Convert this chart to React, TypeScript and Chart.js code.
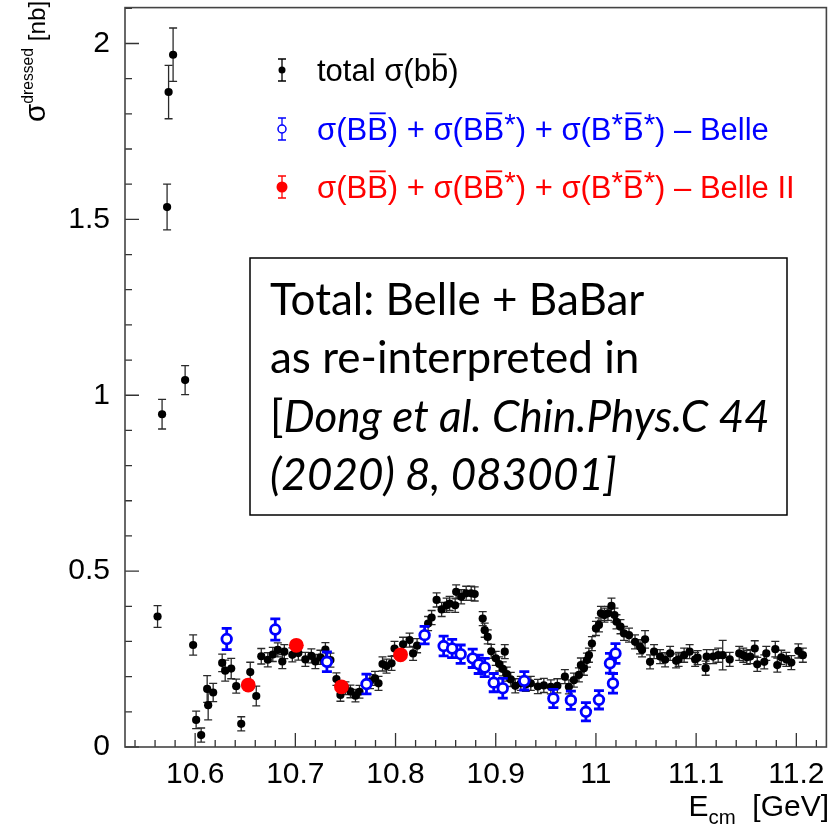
import { useEffect, useRef } from "react";
import { Chart, registerables } from "chart.js";

Chart.register(...registerables);

// Total sigma(b bbar) cross section, dressed [nb], vs E_cm [GeV]
const totalE = [
  10.5625, 10.567, 10.572, 10.5735, 10.578, 10.59, 10.598, 10.601, 10.606, 10.612,
  10.613, 10.618, 10.627, 10.63, 10.636, 10.641, 10.646, 10.655, 10.661, 10.666,
  10.6725, 10.6775, 10.6825, 10.687, 10.689, 10.697, 10.703, 10.71, 10.716, 10.72,
  10.725, 10.73, 10.735, 10.741, 10.745, 10.75, 10.755, 10.76, 10.764, 10.7745,
  10.7795, 10.783, 10.787, 10.791, 10.796, 10.799, 10.8075, 10.814, 10.8175, 10.8215,
  10.8325, 10.836, 10.841, 10.846, 10.851, 10.854, 10.8595, 10.8605, 10.8655, 10.8705,
  10.8755, 10.879, 10.887, 10.889, 10.892, 10.8955, 10.9, 10.9035, 10.907, 10.909,
  10.911, 10.915, 10.9195, 10.925, 10.93, 10.935, 10.942, 10.948, 10.955, 10.9615,
  10.969, 10.973, 10.978, 10.983, 10.985, 10.988, 10.991, 10.993, 10.996, 11.0,
  11.003, 11.005, 11.0085, 11.012, 11.0155, 11.0185, 11.0205, 11.0245, 11.028, 11.033,
  11.039, 11.044, 11.046, 11.049, 11.054, 11.058, 11.064, 11.069, 11.074, 11.08,
  11.0825, 11.088, 11.0935, 11.099, 11.1015, 11.1095, 11.1105, 11.117, 11.122, 11.1265,
  11.1335, 11.143, 11.147, 11.1505, 11.154, 11.1585, 11.161, 11.168, 11.17, 11.179,
  11.181, 11.185, 11.19, 11.195, 11.202, 11.2065,
];
const totalSigma = [
  0.371, 0.946, 1.535, 1.862, 1.968, 1.043, 0.29, 0.077, 0.034, 0.165,
  0.119, 0.155, 0.239, 0.217, 0.223, 0.173, 0.066, 0.213, 0.145, 0.258,
  0.248, 0.263, 0.276, 0.243, 0.271, 0.262, 0.267, 0.249, 0.259, 0.243,
  0.255, 0.277, 0.247, 0.193, 0.148, 0.167, 0.158, 0.146, 0.157, 0.186,
  0.195, 0.181, 0.236, 0.23, 0.238, 0.28, 0.292, 0.304, 0.266, 0.288,
  0.351, 0.368, 0.418, 0.391, 0.403, 0.408, 0.403, 0.441, 0.427, 0.437,
  0.437, 0.435, 0.365, 0.332, 0.313, 0.272, 0.252, 0.236, 0.222, 0.271,
  0.207, 0.192, 0.174, 0.181, 0.178, 0.181, 0.172, 0.175, 0.171, 0.174,
  0.2, 0.171, 0.19, 0.205, 0.233, 0.224, 0.247, 0.261, 0.294, 0.337,
  0.347, 0.38, 0.375, 0.38, 0.401, 0.375, 0.356, 0.342, 0.323, 0.318,
  0.299, 0.285, 0.276, 0.306, 0.242, 0.271, 0.257, 0.248, 0.266, 0.245,
  0.249, 0.261, 0.271, 0.249, 0.254, 0.224, 0.257, 0.257, 0.261, 0.261,
  0.249, 0.266, 0.261, 0.255, 0.257, 0.28, 0.235, 0.242, 0.266, 0.278,
  0.233, 0.255, 0.249, 0.24, 0.273, 0.261,
];
const totalErr = [
  0.031, 0.042, 0.065, 0.076, 0.076, 0.041, 0.029, 0.025, 0.02, 0.038,
  0.042, 0.026, 0.025, 0.03, 0.029, 0.02, 0.02, 0.028, 0.028, 0.022,
  0.02, 0.02, 0.02, 0.02, 0.02, 0.02, 0.02, 0.02, 0.02, 0.02,
  0.02, 0.02, 0.02, 0.018, 0.018, 0.018, 0.018, 0.018, 0.018, 0.02,
  0.02, 0.02, 0.02, 0.02, 0.02, 0.02, 0.02, 0.02, 0.02, 0.02,
  0.02, 0.02, 0.02, 0.02, 0.02, 0.02, 0.02, 0.02, 0.02, 0.02,
  0.02, 0.02, 0.02, 0.02, 0.02, 0.02, 0.02, 0.02, 0.02, 0.02,
  0.02, 0.02, 0.02, 0.02, 0.02, 0.02, 0.02, 0.02, 0.02, 0.02,
  0.02, 0.02, 0.02, 0.02, 0.02, 0.02, 0.02, 0.02, 0.02, 0.02,
  0.02, 0.02, 0.02, 0.02, 0.022, 0.02, 0.02, 0.02, 0.02, 0.02,
  0.02, 0.02, 0.02, 0.025, 0.02, 0.02, 0.02, 0.02, 0.02, 0.02,
  0.02, 0.02, 0.02, 0.02, 0.02, 0.02, 0.02, 0.02, 0.02, 0.042,
  0.02, 0.02, 0.02, 0.02, 0.02, 0.022, 0.02, 0.02, 0.02, 0.022,
  0.02, 0.02, 0.02, 0.02, 0.02, 0.02,
];

// sigma(BB) + sigma(BB*) + sigma(B*B*) - Belle
const belleE = [
  10.6315, 10.68, 10.7315, 10.771, 10.829, 10.848, 10.8565, 10.865, 10.877, 10.883,
  10.889, 10.898, 10.907, 10.9285, 10.9575, 10.975, 10.99, 11.003, 11.014, 11.017,
  11.0195,
];
const belleSigma = [
  0.307, 0.334, 0.242, 0.179, 0.318, 0.287, 0.28, 0.264, 0.252, 0.235,
  0.226, 0.183, 0.167, 0.188, 0.138, 0.133, 0.1, 0.134, 0.238, 0.181,
  0.266,
];
const belleErr = [
  0.03, 0.03, 0.028, 0.028, 0.025, 0.028, 0.026, 0.026, 0.026, 0.026,
  0.026, 0.026, 0.028, 0.026, 0.026, 0.026, 0.026, 0.026, 0.028, 0.028,
  0.028,
];

// sigma(BB) + sigma(BB*) + sigma(B*B*) - Belle II
const belle2E = [10.653, 10.701, 10.746, 10.805];
const belle2Sigma = [0.176, 0.289, 0.171, 0.262];
const belle2Err = [0.012, 0.012, 0.012, 0.012];

const xTickValues = [10.6, 10.7, 10.8, 10.9, 11.0, 11.1, 11.2];
const yTickValues = [0, 0.5, 1, 1.5, 2];

const X_MIN = 10.53;
const X_MAX = 11.23;
const Y_MIN = 0;
const Y_MAX = 2.102;

const AXIS_FONT = "'Liberation Sans', Arial, Helvetica, sans-serif";
const BOX_FONT = "Lato, 'Open Sans', sans-serif";
const BLUE = "#0000ff";
const RED = "#ff0000";

type Seg = { t: string; bar?: boolean; sup?: boolean; sub?: boolean; italic?: boolean; scale?: number };

const fmtTick = (v: number) => String(Math.round(v * 10) / 10);

// Draw a run of text pieces (overbars, super/subscripts) from a left baseline point.
function drawRich(
  ctx: CanvasRenderingContext2D,
  segs: Seg[],
  x: number,
  y: number,
  size: number,
  family: string,
  color: string,
  supScale = 0.75,
  supRaise = 0.3,
  measureOnly = false
) {
  ctx.save();
  ctx.fillStyle = color;
  ctx.strokeStyle = color;
  ctx.textAlign = "left";
  ctx.textBaseline = "alphabetic";
  let cx = x;
  for (const s of segs) {
    const small = s.sup || s.sub;
    const sz = (small ? size * supScale : size) * (s.scale ?? 1);
    ctx.font = `${s.italic ? "italic " : ""}${sz}px ${family}`;
    let dy = 0;
    if (s.sup) dy = -size * supRaise;
    if (s.sub) dy = size * 0.28;
    const w = ctx.measureText(s.t).width;
    if (!measureOnly) {
      ctx.fillText(s.t, cx, y + dy);
      if (s.bar) {
        ctx.lineWidth = Math.max(1.2, size * 0.06);
        ctx.beginPath();
        const by = y + dy - size * 0.86;
        ctx.moveTo(cx + w * 0.12, by);
        ctx.lineTo(cx + w * 0.9, by);
        ctx.stroke();
      }
    }
    cx += w;
  }
  ctx.restore();
  return cx - x;
}

const errorBarPlugin = {
  id: "errorBars",
  beforeDatasetDraw(chart: any, args: any) {
    const ds = chart.data.datasets[args.index];
    const errs: number[] = ds.errors;
    const st = ds.errStyle;
    if (!errs || !st) return;
    const { ctx, chartArea } = chart;
    const ys = chart.scales.y;
    ctx.save();
    ctx.beginPath();
    ctx.rect(chartArea.left, chartArea.top, chartArea.right - chartArea.left, chartArea.bottom - chartArea.top);
    ctx.clip();
    ctx.strokeStyle = st.color;
    ctx.lineWidth = st.width;
    args.meta.data.forEach((pt: any, i: number) => {
      const v = ds.data[i].y;
      const e = errs[i];
      const top = ys.getPixelForValue(v + e);
      const bot = ys.getPixelForValue(v - e);
      const x = pt.x;
      ctx.beginPath();
      if (top < pt.y - st.gap) {
        ctx.moveTo(x, pt.y - st.gap);
        ctx.lineTo(x, top);
      }
      if (bot > pt.y + st.gap) {
        ctx.moveTo(x, pt.y + st.gap);
        ctx.lineTo(x, bot);
      }
      ctx.moveTo(x - st.cap, top);
      ctx.lineTo(x + st.cap, top);
      ctx.moveTo(x - st.cap, bot);
      ctx.lineTo(x + st.cap, bot);
      ctx.stroke();
    });
    ctx.restore();
  },
};

const framePlugin = {
  id: "frameAndDecor",
  afterDatasetsDraw(chart: any) {
    const { ctx, chartArea } = chart;
    const xs = chart.scales.x;
    const ys = chart.scales.y;
    const { left, right, top, bottom } = chartArea;

    ctx.save();
    // inward ticks
    ctx.strokeStyle = "#333";
    ctx.lineWidth = 1.3;
    ctx.beginPath();
    for (let k = 0; k <= 21; k++) {
      const v = k / 10;
      if (v > Y_MAX) break;
      const py = ys.getPixelForValue(v);
      const len = k % 5 === 0 ? 14 : 7;
      ctx.moveTo(left, py);
      ctx.lineTo(left + len, py);
    }
    for (let k = 527; k <= 561; k++) {
      const v = k / 50;
      if (v < X_MIN || v > X_MAX) continue;
      const px = xs.getPixelForValue(v);
      const len = k % 5 === 0 ? 14 : 7;
      ctx.moveTo(px, bottom);
      ctx.lineTo(px, bottom - len);
    }
    ctx.stroke();

    // frame
    ctx.strokeStyle = "#444";
    ctx.lineWidth = 1.6;
    ctx.strokeRect(left, top, right - left, bottom - top);

    // x-axis title, right-aligned to the frame edge
    const xTitle: Seg[] = [{ t: "E" }, { t: "cm", sub: true }, { t: "  [GeV]" }];
    const xtw = drawRich(ctx, xTitle, 0, 0, 30, AXIS_FONT, "#000", 0.68, 0.3, true);
    drawRich(ctx, xTitle, 829 - xtw, 816, 30, AXIS_FONT, "#000", 0.68);

    // y-axis title, rotated and reading upward
    ctx.translate(45, 122);
    ctx.rotate(-Math.PI / 2);
    drawRich(
      ctx,
      [{ t: "σ", scale: 1.1 }, { t: "dressed", sup: true }, { t: " [nb]", scale: 0.9 }],
      0, 0, 27, AXIS_FONT, "#000", 0.58, 0.44
    );
    ctx.setTransform(1, 0, 0, 1, 0, 0);

    // legend
    const legendX = 282;
    const textX = 317;
    const rows = [
      { cy: 70, color: "#000", kind: "dot" },
      { cy: 129, color: BLUE, kind: "open" },
      { cy: 187, color: RED, kind: "red" },
    ];
    const starPart = (suffix: string): Seg[] => [
      { t: "σ(B" }, { t: "B", bar: true }, { t: ") + σ(B" }, { t: "B", bar: true }, { t: "*", sup: true },
      { t: ") + σ(B" }, { t: "*", sup: true }, { t: "B", bar: true }, { t: "*", sup: true }, { t: ") – " + suffix },
    ];
    const labels: Seg[][] = [
      [{ t: "total σ(b" }, { t: "b", bar: true }, { t: ")" }],
      starPart("Belle"),
      starPart("Belle II"),
    ];
    rows.forEach((r, i) => {
      ctx.strokeStyle = r.color;
      ctx.fillStyle = r.color;
      ctx.lineWidth = 1.3;
      const gap = r.kind === "open" ? 4 : 0;
      ctx.beginPath();
      ctx.moveTo(legendX, r.cy - 11);
      ctx.lineTo(legendX, r.cy - gap);
      ctx.moveTo(legendX, r.cy + gap);
      ctx.lineTo(legendX, r.cy + 11);
      ctx.moveTo(legendX - 4, r.cy - 11);
      ctx.lineTo(legendX + 4, r.cy - 11);
      ctx.moveTo(legendX - 4, r.cy + 11);
      ctx.lineTo(legendX + 4, r.cy + 11);
      ctx.stroke();
      ctx.beginPath();
      if (r.kind === "dot") {
        ctx.arc(legendX, r.cy, 3.5, 0, Math.PI * 2);
        ctx.fill();
      } else if (r.kind === "open") {
        ctx.arc(legendX, r.cy, 4, 0, Math.PI * 2);
        ctx.fillStyle = "#fff";
        ctx.fill();
        ctx.lineWidth = 1.5;
        ctx.stroke();
      } else {
        ctx.arc(legendX, r.cy, 5.5, 0, Math.PI * 2);
        ctx.fill();
      }
      drawRich(ctx, labels[i], textX, r.cy + 11, 31, AXIS_FONT, r.color, 0.95, 0.18);
    });

    // reference text box
    ctx.fillStyle = "#fff";
    ctx.fillRect(250, 258, 537, 257);
    ctx.strokeStyle = "#000";
    ctx.lineWidth = 1.5;
    ctx.strokeRect(250, 258, 537, 257);
    const boxLines: Seg[][] = [
      [{ t: "Total: Belle + BaBar" }],
      [{ t: "as re-interpreted in" }],
      [{ t: "[" }, { t: "Dong et al. Chin.Phys.C 44", italic: true }],
      [{ t: "(2020) 8, 083001]", italic: true }],
    ];
    boxLines.forEach((ln, i) => {
      drawRich(ctx, ln, 270, 315 + i * 58.3, 44, BOX_FONT, "#000");
    });
    ctx.restore();
  },
};

export default function App() {
  const ref = useRef<HTMLCanvasElement>(null);

  useEffect(() => {
    document.body.style.margin = "0";
    const canvas = ref.current;
    if (!canvas) return;
    const pts = (xs: number[], ys: number[]) => xs.map((x, i) => ({ x, y: ys[i] }));
    const chart = new Chart(canvas, {
      type: "scatter",
      data: {
        datasets: [
          {
            label: "total",
            data: pts(totalE, totalSigma),
            pointRadius: 4.1,
            pointBackgroundColor: "#000",
            pointBorderWidth: 0,
            order: 3,
            errors: totalErr,
            errStyle: { color: "#2a2a2a", width: 1.3, cap: 4, gap: 0 },
          } as any,
          {
            label: "Belle",
            data: pts(belleE, belleSigma),
            pointRadius: 4.8,
            pointBackgroundColor: "#fff",
            pointBorderColor: BLUE,
            pointBorderWidth: 2.8,
            order: 2,
            errors: belleErr,
            errStyle: { color: BLUE, width: 2.8, cap: 5, gap: 5 },
          } as any,
          {
            label: "Belle II",
            data: pts(belle2E, belle2Sigma),
            pointRadius: 7.4,
            pointBackgroundColor: RED,
            pointBorderWidth: 0,
            order: 1,
            errors: belle2Err,
            errStyle: { color: RED, width: 1.5, cap: 3, gap: 0 },
          } as any,
        ],
      },
      options: {
        animation: false,
        responsive: false,
        devicePixelRatio: 1,
        layout: { padding: { left: 0, top: 7, right: 4, bottom: 0 } },
        plugins: { legend: { display: false }, tooltip: { enabled: false } },
        scales: {
          x: {
            type: "linear",
            min: X_MIN,
            max: X_MAX,
            afterFit: (s: any) => {
              s.height = 83;
              s.paddingLeft = 0;
              s.paddingRight = 0;
            },
            afterBuildTicks: (s: any) => {
              s.ticks = xTickValues.map((v) => ({ value: v }));
            },
            grid: { display: false, drawTicks: false },
            border: { display: false },
            ticks: {
              color: "#000",
              font: { family: AXIS_FONT, size: 30 },
              padding: 10,
              maxRotation: 0,
              autoSkip: false,
              callback: (v: any) => fmtTick(Number(v)),
            },
          },
          y: {
            type: "linear",
            min: Y_MIN,
            max: Y_MAX,
            afterFit: (s: any) => {
              s.width = 125;
              s.paddingTop = 0;
              s.paddingBottom = 0;
            },
            afterBuildTicks: (s: any) => {
              s.ticks = yTickValues.map((v) => ({ value: v }));
            },
            grid: { display: false, drawTicks: false },
            border: { display: false },
            ticks: {
              color: "#000",
              font: { family: AXIS_FONT, size: 30 },
              padding: 15,
              autoSkip: false,
              callback: (v: any) => fmtTick(Number(v)),
            },
          },
        },
      } as any,
      plugins: [errorBarPlugin, framePlugin],
    });
    return () => chart.destroy();
  }, []);

  return (
    <div style={{ width: 834, height: 830 }}>
      <canvas ref={ref} width={834} height={830} style={{ display: "block" }} />
    </div>
  );
}
